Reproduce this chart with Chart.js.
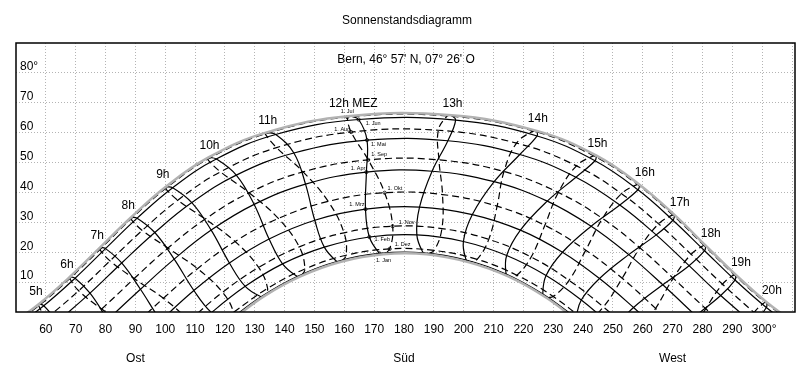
<!DOCTYPE html>
<html>
<head>
<meta charset="utf-8">
<title>Sonnenstandsdiagramm</title>
<script src="https://cdn.jsdelivr.net/npm/chart.js"></script>
<style>
    html, body { margin: 0; padding: 0; background: #ffffff; }
</style>
</head>
<body>
<canvas id="sunChart" width="811" height="380"></canvas>
<script>
// Sonnenstandsdiagramm Bern

// Uhrzeit MEZ, eine Spalte pro Stunde
const hours = [4, 5, 6, 7, 8, 9, 10, 11, 12, 13, 14, 15, 16, 17, 18, 19, 20, 21];

// Azimut (Grad) und Sonnenhoehe (Grad) je Datum, null = Sonne weit unter dem Horizont
const azDec21  = [null, null, null, null, 122.2, 133.3, 145.5, 158.9, 173.1, 187.6, 201.8, 215.1, 227.3, 238.3, null, null, null, null];
const altDec21 = [null, null, null, null, -2.7, 5.4, 12.0, 16.8, 19.3, 19.3, 16.6, 11.8, 5.0, -3.1, null, null, null, null];

const azJan  = [null, null, null, null, 120.9, 132.1, 144.2, 157.5, 171.8, 186.4, 200.8, 214.2, 226.5, 237.7, null, null, null, null];
const altJan = [null, null, null, null, -3.2, 5.1, 11.9, 16.9, 19.6, 19.8, 17.4, 12.7, 6.0, -2.0, null, null, null, null];

const azFeb  = [null, null, null, 104.8, 115.5, 126.8, 139.3, 153.3, 168.4, 184.3, 199.9, 214.4, 227.6, 239.4, 250.4, null, null, null];
const altFeb = [null, null, null, -9.8, -0.2, 8.6, 16.1, 21.7, 25.1, 25.8, 23.6, 18.9, 12.2, 4.0, -5.3, null, null, null];

const azMar  = [null, null, null, 98.5, 109.6, 121.5, 134.8, 150.1, 167.1, 185.2, 202.9, 219.0, 233.1, 245.5, 256.9, 267.8, null, null];
const altMar = [null, null, null, -2.8, 7.2, 16.4, 24.4, 30.7, 34.4, 35.1, 32.6, 27.4, 20.0, 11.2, 1.5, -8.6, null, null];

const azApr  = [null, null, 80.7, 91.7, 103.0, 115.4, 129.8, 147.0, 167.4, 189.4, 210.2, 228.0, 242.7, 255.3, 266.7, 277.7, null, null];
const altApr = [null, null, -2.6, 7.6, 17.7, 27.4, 36.0, 42.8, 46.8, 47.1, 43.6, 37.1, 28.7, 19.2, 9.1, -1.2, null, null];

const azMay  = [null, 63.9, 74.8, 85.4, 96.5, 108.9, 123.8, 143.1, 167.6, 194.7, 218.8, 237.6, 252.3, 264.5, 275.5, 286.1, 297.1, null];
const altMay = [null, -3.2, 6.3, 16.4, 26.6, 36.6, 45.8, 53.2, 57.5, 57.3, 52.7, 45.1, 35.8, 25.8, 15.5, 5.5, -4.0, null];

const azJun  = [48.1, 59.3, 69.8, 80.0, 90.6, 102.5, 117.1, 137.0, 164.8, 197.3, 224.6, 244.0, 258.4, 270.1, 280.7, 290.9, 301.4, 312.6];
const altJun = [-6.2, 2.1, 11.3, 21.2, 31.4, 41.6, 51.2, 59.4, 64.4, 64.2, 58.9, 50.6, 40.9, 30.7, 20.5, 10.7, 1.5, -6.7];

const azJun21  = [46.6, 57.7, 68.1, 78.2, 88.6, 100.2, 114.5, 134.0, 162.0, 195.9, 224.5, 244.5, 259.0, 270.7, 281.1, 291.2, 301.6, 312.7];
const altJun21 = [-5.4, 2.7, 11.8, 21.6, 31.7, 41.9, 51.7, 60.1, 65.6, 65.8, 60.6, 52.3, 42.5, 32.4, 22.2, 12.4, 3.2, -5.0];

const azJul  = [46.3, 57.6, 68.0, 78.1, 88.5, 100.1, 114.2, 133.5, 161.0, 194.5, 223.3, 243.5, 258.2, 270.0, 280.5, 290.6, 301.0, 312.1];
const altJul = [-6.0, 2.1, 11.2, 20.9, 31.1, 41.3, 51.1, 59.6, 65.2, 65.6, 60.6, 52.3, 42.7, 32.5, 22.3, 12.5, 3.3, -5.0];

const azAug  = [null, 60.2, 71.0, 81.5, 92.3, 104.2, 118.5, 137.3, 162.3, 191.5, 217.7, 237.8, 252.9, 265.3, 276.2, 286.7, 297.3, null];
const altAug = [null, -2.2, 7.1, 17.1, 27.3, 37.4, 46.9, 55.0, 60.2, 60.8, 56.5, 48.9, 39.6, 29.5, 19.3, 9.3, -0.2, null];

const azSep  = [null, 67.5, 78.7, 89.6, 100.9, 113.4, 128.1, 146.2, 168.0, 191.7, 213.5, 231.7, 246.5, 259.0, 270.2, 281.1, 292.3, null];
const altSep = [null, -8.8, 1.0, 11.2, 21.4, 31.1, 39.9, 46.9, 50.9, 50.9, 47.0, 40.0, 31.3, 21.5, 11.3, 1.1, -8.7, null];

const azOkt  = [null, null, 88.4, 99.4, 110.8, 123.4, 137.9, 154.6, 173.5, 192.9, 211.2, 227.2, 240.9, 253.1, 264.3, 275.3, null, null];
const altOkt = [null, null, -5.6, 4.6, 14.5, 23.6, 31.3, 37.0, 39.9, 39.3, 35.4, 29.0, 20.7, 11.3, 1.2, -9.0, null, null];

const azNov  = [null, null, null, 108.1, 119.2, 131.3, 144.9, 159.9, 176.2, 192.7, 208.4, 222.6, 235.3, 246.8, 257.7, null, null, null];
const altNov = [null, null, null, -2.8, 6.6, 14.9, 21.8, 26.5, 28.7, 27.9, 24.3, 18.4, 10.6, 1.7, -8.1, null, null, null];

const azDez  = [null, null, null, null, 122.9, 134.3, 146.8, 160.6, 175.2, 190.1, 204.5, 217.8, 230.0, 241.1, null, null, null, null];
const altDez = [null, null, null, null, -0.1, 7.9, 14.4, 19.0, 21.1, 20.6, 17.6, 12.3, 5.2, -3.3, null, null, null, null];

// Daten in zeitlicher Reihenfolge ab Wintersonnenwende
const dayNames = ['21. Dez', '1. Jan', '1. Feb', '1. Mrz', '1. Apr', '1. Mai', '1. Jun',
                  '21. Jun', '1. Jul', '1. Aug', '1. Sep', '1. Okt', '1. Nov', '1. Dez'];
const dayAz  = [azDec21, azJan, azFeb, azMar, azApr, azMay, azJun, azJun21, azJul, azAug, azSep, azOkt, azNov, azDez];
const dayAlt = [altDec21, altJan, altFeb, altMar, altApr, altMay, altJun, altJun21, altJul, altAug, altSep, altOkt, altNov, altDez];

// Achsen
const xTicks = [60, 70, 80, 90, 100, 110, 120, 130, 140, 150, 160, 170, 180, 190, 200, 210, 220, 230, 240, 250, 260, 270, 280, 290, 300];
const yTicks = [10, 20, 30, 40, 50, 60, 70, 80];
const compassNames = ['Ost', 'Süd', 'West'];
const compassAz = [90, 180, 270];

// Stundenlinien 5h..20h
const hourLines = [5, 6, 7, 8, 9, 10, 11, 12, 13, 14, 15, 16, 17, 18, 19, 20];

// Beschriftung der Monatspunkte an der 12h-Linie: [dx, dy, Ausrichtung] in Pixel
const monthLabelPos = {
    '1. Jul': [0, -6, 'center'],
    '1. Jun': [7, 4, 'left'],
    '1. Aug': [-1, -3, 'right'],
    '1. Mai': [4, 4, 'left'],
    '1. Sep': [3, -5, 'left'],
    '1. Apr': [-1, -4, 'right'],
    '1. Okt': [3, -4, 'left'],
    '1. Mrz': [-1, -5, 'right'],
    '1. Nov': [6, -4, 'left'],
    '1. Feb': [5, 3, 'left'],
    '1. Dez': [5, -4, 'left'],
    '1. Jan': [4, 7, 'center']
};

const FONT = '"Liberation Sans", Arial, Helvetica, sans-serif';
const dashPattern = [7, 4];

function point(d, hi) {
    const az = dayAz[d][hi];
    return az === null ? null : { x: az, y: dayAlt[d][hi] };
}

const datasets = [];

// Sonnenwenden: breite graue Linien zuunterst
[0, 7].forEach(d => {
    datasets.push({
        data: dayAz[d].map((_, hi) => point(d, hi)).filter(p => p),
        borderColor: '#b2b2b2',
        borderWidth: 2.5
    });
});

// Tagesbahnen: Jan-Jun ausgezogen, Jul-Dez gestrichelt
dayNames.forEach((name, d) => {
    if (d === 0 || d === 7) return;
    datasets.push({
        data: dayAz[d].map((_, hi) => point(d, hi)).filter(p => p),
        borderColor: '#000',
        borderWidth: 1.2,
        borderDash: d > 7 ? dashPattern : []
    });
});

// Stundenlinien (Analemma): steigende Deklination ausgezogen, fallende gestrichelt
const risingDays = [0, 1, 2, 3, 4, 5, 6, 7];
const fallingDays = [7, 8, 9, 10, 11, 12, 13, 0];
hourLines.forEach(h => {
    const hi = hours.indexOf(h);
    datasets.push({
        data: risingDays.map(d => point(d, hi)).filter(p => p),
        borderColor: '#000',
        borderWidth: 1.2
    });
    datasets.push({
        data: fallingDays.map(d => point(d, hi)).filter(p => p),
        borderColor: '#000',
        borderWidth: 1.2,
        borderDash: dashPattern
    });
});

// Monatspunkte auf der 12h-Linie
const noonIdx = hours.indexOf(12);
const monthDays = [1, 2, 3, 4, 5, 6, 8, 9, 10, 11, 12, 13];
datasets.push({
    data: monthDays.map(d => point(d, noonIdx)),
    showLine: false,
    pointRadius: 1.6,
    pointBackgroundColor: '#fff',
    pointBorderColor: '#000',
    pointBorderWidth: 0.8
});

// Texte, Rahmen und Achsbeschriftung
const decorPlugin = {
    id: 'decor',
    afterDatasetsDraw(chart) {
        const { ctx, chartArea: area, scales: { x, y } } = chart;
        ctx.save();

        ctx.strokeStyle = '#000';
        ctx.lineWidth = 1.5;
        ctx.strokeRect(area.left, area.top, area.right - area.left, area.bottom - area.top);

        ctx.fillStyle = '#000';
        ctx.textBaseline = 'middle';
        ctx.font = '12px ' + FONT;
        ctx.textAlign = 'center';
        ctx.fillText('Sonnenstandsdiagramm', 407, 21);
        ctx.fillText('Bern, 46° 57\' N, 07° 26\' O', 406, 60);

        // x-Achse
        xTicks.forEach(v => {
            const label = v === 300 ? v + '°' : String(v);
            const off = v === 300 ? 2 : 0;
            ctx.fillText(label, x.getPixelForValue(v) + off, area.bottom + 18);
        });
        compassNames.forEach((name, i) => {
            ctx.fillText(name, x.getPixelForValue(compassAz[i]), area.bottom + 47);
        });

        // y-Achse innen links
        ctx.textAlign = 'left';
        yTicks.forEach(v => {
            const label = v === 80 ? v + '°' : String(v);
            ctx.fillText(label, area.left + 4, y.getPixelForValue(v) - 6);
        });

        // Stundenbeschriftung am Sommeranfang
        const topDay = 7;
        ctx.textAlign = 'center';
        hourLines.forEach(h => {
            const hi = hours.indexOf(h);
            const px = x.getPixelForValue(dayAz[topDay][hi]);
            const py = y.getPixelForValue(dayAlt[topDay][hi]);
            let dx = h < 10 ? -3 : (h < 16 ? 1 : 5);
            if (h === 12) dx = 3;
            const label = h === 12 ? '12h MEZ' : h + 'h';
            ctx.fillText(label, px + dx, py - 12);
        });

        // Monatsbeschriftung an der 12h-Linie
        ctx.font = '5.5px ' + FONT;
        monthDays.forEach(d => {
            const name = dayNames[d];
            const pos = monthLabelPos[name];
            const px = x.getPixelForValue(dayAz[d][noonIdx]);
            const py = y.getPixelForValue(dayAlt[d][noonIdx]);
            ctx.textAlign = pos[2];
            ctx.fillText(name, px + pos[0], py + pos[1]);
        });

        ctx.restore();
    }
};

const gridStyle = {
    color: '#b4b4b4',
    lineWidth: 1,
    drawTicks: false
};

new Chart(document.getElementById('sunChart'), {
    type: 'scatter',
    data: { datasets: datasets },
    plugins: [decorPlugin],
    options: {
        responsive: false,
        animation: false,
        layout: {
            padding: { left: 16, top: 43, right: 16, bottom: 68 }
        },
        plugins: {
            legend: { display: false },
            tooltip: { enabled: false }
        },
        elements: {
            point: { radius: 0, hoverRadius: 0 },
            line: { tension: 0.4, capBezierPoints: false, fill: false }
        },
        datasets: {
            scatter: { showLine: true }
        },
        scales: {
            x: {
                type: 'linear',
                min: 50,
                max: 311,
                afterBuildTicks: scale => {
                    scale.ticks = xTicks.concat([310]).map(v => ({ value: v }));
                },
                ticks: { display: false },
                grid: gridStyle,
                border: { display: false, dash: [1, 2] }
            },
            y: {
                type: 'linear',
                min: 0,
                max: 90,
                afterBuildTicks: scale => {
                    scale.ticks = yTicks.map(v => ({ value: v }));
                },
                ticks: { display: false },
                grid: gridStyle,
                border: { display: false, dash: [1, 2] }
            }
        }
    }
});
</script>
</body>
</html>
